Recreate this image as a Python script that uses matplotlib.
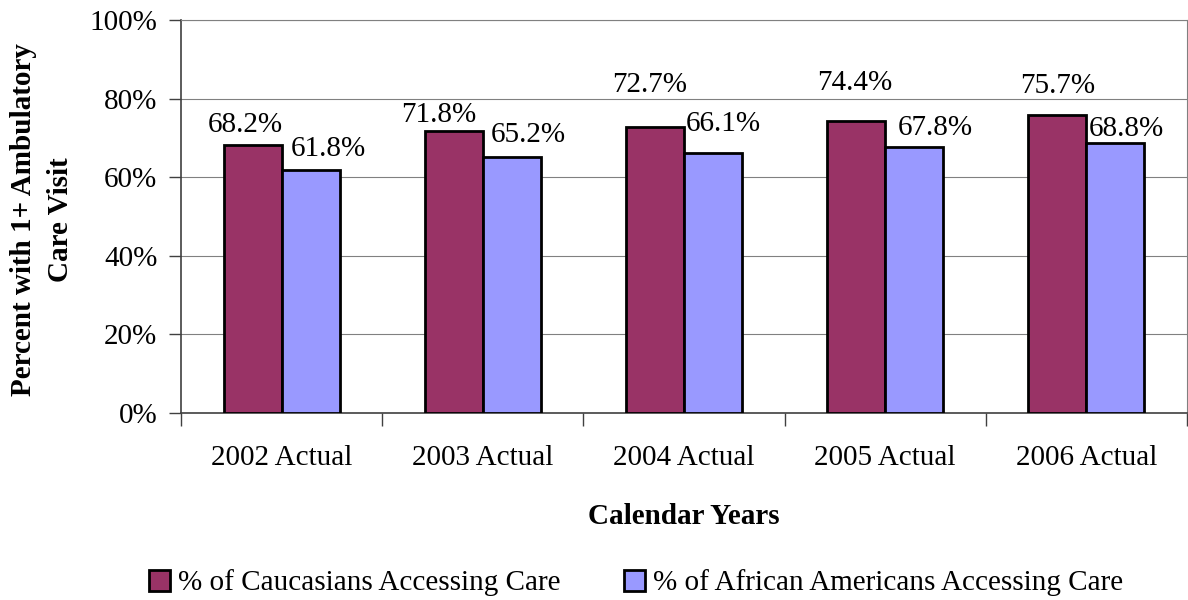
import matplotlib
matplotlib.use("Agg")
import matplotlib.pyplot as plt
import numpy as np
from matplotlib.patches import Patch

# Data
years = ["2002 Actual", "2003 Actual", "2004 Actual", "2005 Actual", "2006 Actual"]
caucasian = [68.2, 71.8, 72.7, 74.4, 75.7]
african_american = [61.8, 65.2, 66.1, 67.8, 68.8]
series_names = ["% of Caucasians Accessing Care", "% of African Americans Accessing Care"]
y_ticks = [0, 20, 40, 60, 80, 100]

# Styling
plt.rcParams["font.family"] = ["Liberation Serif", "DejaVu Serif"]
FS = 21
C_MAROON = "#993366"
C_BLUE = "#9999FF"
GRID = "#808080"
SPINE = "#404040"

# Label offsets (pixels) from the top-centre of each bar
off_c = [(-7, 22.5), (-15, 18), (-5.5, 45), (-1, 40), (0, 32)]
off_a = [(17.5, 24), (16, 24.5), (10.5, 31.5), (21, 21), (10.5, 16.5)]

W, H = 1188, 600
fig = plt.figure(figsize=(W / 100, H / 100), dpi=100)
ax = fig.add_axes([181 / W, 187 / H, 1006 / W, 393 / H])

x = np.arange(len(years))
bw = 58 / 201
ax.bar(x - bw / 2, caucasian, bw, color=C_MAROON, edgecolor="black", linewidth=2.0, zorder=3)
ax.bar(x + bw / 2, african_american, bw, color=C_BLUE, edgecolor="black", linewidth=2.0, zorder=3)

for xi, v, (dx, dy) in zip(x - bw / 2, caucasian, off_c):
    ax.annotate(f"{v:.1f}%", xy=(xi, v), xytext=(dx, dy - 9.5), textcoords="offset pixels",
                ha="center", va="baseline", fontsize=FS, annotation_clip=False)
for xi, v, (dx, dy) in zip(x + bw / 2, african_american, off_a):
    ax.annotate(f"{v:.1f}%", xy=(xi, v), xytext=(dx, dy - 9.5), textcoords="offset pixels",
                ha="center", va="baseline", fontsize=FS, annotation_clip=False)

ax.set_xlim(-0.5, len(years) - 0.5)
ax.set_ylim(0, 100)
ax.set_yticks(y_ticks)
ax.set_yticklabels([f"{t}%" for t in y_ticks], fontsize=FS)
ax.yaxis.grid(True, color=GRID, linewidth=0.8, zorder=0)
ax.set_axisbelow(True)

# Ticks at category boundaries, labels at category centres
ax.set_xticks(np.arange(len(years) + 1) - 0.5)
ax.set_xticklabels([])
ax.set_xticks(x, minor=True)
ax.set_xticklabels(years, minor=True, fontsize=FS)
ax.tick_params(axis="x", which="major", length=9, width=1, color=SPINE, direction="out")
ax.tick_params(axis="x", which="minor", length=0, pad=23)
ax.tick_params(axis="y", length=9, width=1, color=SPINE, direction="out", pad=8)

for s in ["left", "bottom"]:
    ax.spines[s].set_color(SPINE)
    ax.spines[s].set_linewidth(1.2)
for s in ["top", "right"]:
    ax.spines[s].set_color(GRID)
    ax.spines[s].set_linewidth(0.8)

fig.text(684 / W, 1 - 517 / H, "Calendar Years", ha="center", va="center",
         fontsize=FS, fontweight="bold")
fig.text(42 / W, 1 - 220 / H, "Percent with 1+ Ambulatory\nCare Visit", ha="center", va="center",
         rotation=90, fontsize=FS, fontweight="bold", multialignment="center", linespacing=1.45)

handles = [Patch(facecolor=C_MAROON, edgecolor="black", linewidth=2.0),
           Patch(facecolor=C_BLUE, edgecolor="black", linewidth=2.0)]
fig.legend(handles, series_names, loc="center", bbox_to_anchor=(636 / W, 1 - 583 / H),
           ncol=2, frameon=False, fontsize=FS, handlelength=0.72, handleheight=0.72,
           handletextpad=0.25, columnspacing=2.2, borderpad=0, borderaxespad=0)

fig.savefig("out.png", dpi=100)
